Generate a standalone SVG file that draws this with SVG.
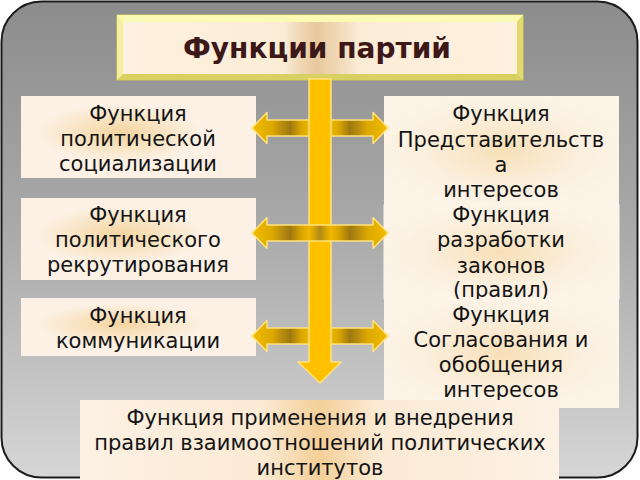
<svg xmlns="http://www.w3.org/2000/svg" width="640" height="480" viewBox="0 0 640 480">
<defs>
<style>
.t{font-family:"DejaVu Sans","Liberation Sans",sans-serif;font-size:21px;fill:#141414;text-anchor:middle}
.title{font-family:"DejaVu Sans","Liberation Sans",sans-serif;font-size:28px;font-weight:bold;fill:#3c1818;text-anchor:middle}
.arr{stroke:#ffe27a;stroke-width:1.5;stroke-linejoin:round}
</style>
<linearGradient id="bg" x1="0" y1="0" x2="0" y2="1">
<stop offset="0" stop-color="#8c8c8c"/>
<stop offset="0.5" stop-color="#ababab"/>
<stop offset="1" stop-color="#d6d6d6"/>
</linearGradient>
<radialGradient id="glowL" cx="0.42" cy="0.45" r="0.35">
<stop offset="0" stop-color="#f4d4a0"/>
<stop offset="0.6" stop-color="#f9e6c8"/>
<stop offset="1" stop-color="#fcf1e4"/>
</radialGradient>
<radialGradient id="glowR" cx="0.5" cy="0.5" r="0.55">
<stop offset="0" stop-color="#f8e0b8"/>
<stop offset="0.6" stop-color="#fbefdd"/>
<stop offset="1" stop-color="#fdf4e8"/>
</radialGradient>
<linearGradient id="glowB" x1="0" y1="0" x2="1" y2="0">
<stop offset="0" stop-color="#fcf1e4"/>
<stop offset="0.38" stop-color="#fbead4"/>
<stop offset="0.5" stop-color="#f4cf98"/>
<stop offset="0.62" stop-color="#fbead4"/>
<stop offset="1" stop-color="#fcf1e4"/>
</linearGradient>
<linearGradient id="face" x1="0" y1="0" x2="1" y2="0">
<stop offset="0" stop-color="#fdf1df"/>
<stop offset="0.41" stop-color="#fbecd6"/>
<stop offset="0.43" stop-color="#f4e0c4"/>
<stop offset="0.49" stop-color="#e8c89c"/>
<stop offset="0.57" stop-color="#f4e0c4"/>
<stop offset="0.6" stop-color="#fbecd6"/>
<stop offset="1" stop-color="#fdf1df"/>
</linearGradient>
<linearGradient id="harr" x1="252" y1="0" x2="388" y2="0" gradientUnits="userSpaceOnUse">
<stop offset="0" stop-color="#f2bc00"/>
<stop offset="0.15" stop-color="#dca800"/>
<stop offset="0.22" stop-color="#b88e10"/>
<stop offset="0.28" stop-color="#a07810"/>
<stop offset="0.36" stop-color="#d8a400"/>
<stop offset="0.42" stop-color="#f0b800"/>
<stop offset="0.5" stop-color="#b08a12"/>
<stop offset="0.58" stop-color="#f0b800"/>
<stop offset="0.64" stop-color="#d8a400"/>
<stop offset="0.72" stop-color="#a07810"/>
<stop offset="0.78" stop-color="#b88e10"/>
<stop offset="0.85" stop-color="#dca800"/>
<stop offset="1" stop-color="#f2bc00"/>
</linearGradient>
</defs>

<rect x="0" y="0" width="640" height="480" fill="#ffffff"/>
<rect x="1.5" y="1.5" width="636" height="476" rx="40" ry="40" fill="url(#bg)" stroke="#1c1c1c" stroke-width="2"/>

<g id="title">
<rect x="117" y="15" width="406" height="65" fill="#eeea7c" stroke="#d2cc4c" stroke-width="1"/>
<polygon points="117,15 523,15 517,22 123,22" fill="#fafab4"/>
<polygon points="117,15 123,22 123,74 117,80" fill="#f4f0a0"/>
<polygon points="117,80 123,74 517,74 523,80" fill="#d8d060"/>
<polygon points="523,15 517,22 517,74 523,80" fill="#e2da6c"/>
<rect x="123" y="22" width="394" height="52" fill="url(#face)"/>
<text class="title" x="317" y="58">Функции партий</text>
</g>

<g id="left1">
<rect x="21" y="96" width="235" height="82" fill="url(#glowL)"/>
<text class="t" x="138" y="121">Функция</text>
<text class="t" x="138" y="146">политической</text>
<text class="t" x="138" y="171">социализации</text>
</g>
<g id="left2">
<rect x="21" y="198" width="235" height="82" fill="url(#glowL)"/>
<text class="t" x="138" y="222">Функция</text>
<text class="t" x="138" y="247">политического</text>
<text class="t" x="138" y="272">рекрутирования</text>
</g>
<g id="left3">
<rect x="21" y="298" width="235" height="58" fill="url(#glowL)"/>
<text class="t" x="138" y="323">Функция</text>
<text class="t" x="138" y="348">коммуникации</text>
</g>

<g id="right1">
<rect x="384" y="96" width="235" height="109" fill="url(#glowR)"/>
<text class="t" x="501" y="121">Функция</text>
<text class="t" x="501" y="147">Представительств</text>
<text class="t" x="501" y="172">а</text>
<text class="t" x="501" y="197">интересов</text>
</g>
<g id="right2">
<rect x="384" y="205" width="235" height="94" fill="url(#glowR)" stroke="#fdf6ec" stroke-width="1"/>
<text class="t" x="501" y="222">Функция</text>
<text class="t" x="501" y="247">разработки</text>
<text class="t" x="501" y="273">законов</text>
<text class="t" x="501" y="297">(правил)</text>
</g>
<g id="right3">
<rect x="384" y="299" width="235" height="109" fill="url(#glowR)"/>
<text class="t" x="501" y="322">Функция</text>
<text class="t" x="501" y="347">Согласования и</text>
<text class="t" x="501" y="372">обобщения</text>
<text class="t" x="501" y="397">интересов</text>
</g>

<g id="connectors">
<polygon class="arr" fill="url(#harr)" points="252,128 267,112.5 267,120 373,120 373,112.5 388,128 373,143.5 373,136 267,136 267,143.5"/>
<polygon class="arr" fill="url(#harr)" points="252,336 267,320.5 267,328 373,328 373,320.5 388,336 373,351.5 373,344 267,344 267,351.5"/>
<polygon class="arr" fill="#ffc000" points="309,79 331,79 331,362 341,362 320,383 298,362 309,362"/>
<polygon class="arr" fill="url(#harr)" points="252,233 267,217.5 267,225 373,225 373,217.5 388,233 373,248.5 373,241 267,241 267,248.5"/>
</g>

<g id="bottom">
<rect x="80" y="400" width="479" height="80" fill="url(#glowB)"/>
<text class="t" x="320" y="425">Функция применения и внедрения</text>
<text class="t" x="320" y="450">правил взаимоотношений политических</text>
<text class="t" x="320" y="475">институтов</text>
</g>
</svg>
